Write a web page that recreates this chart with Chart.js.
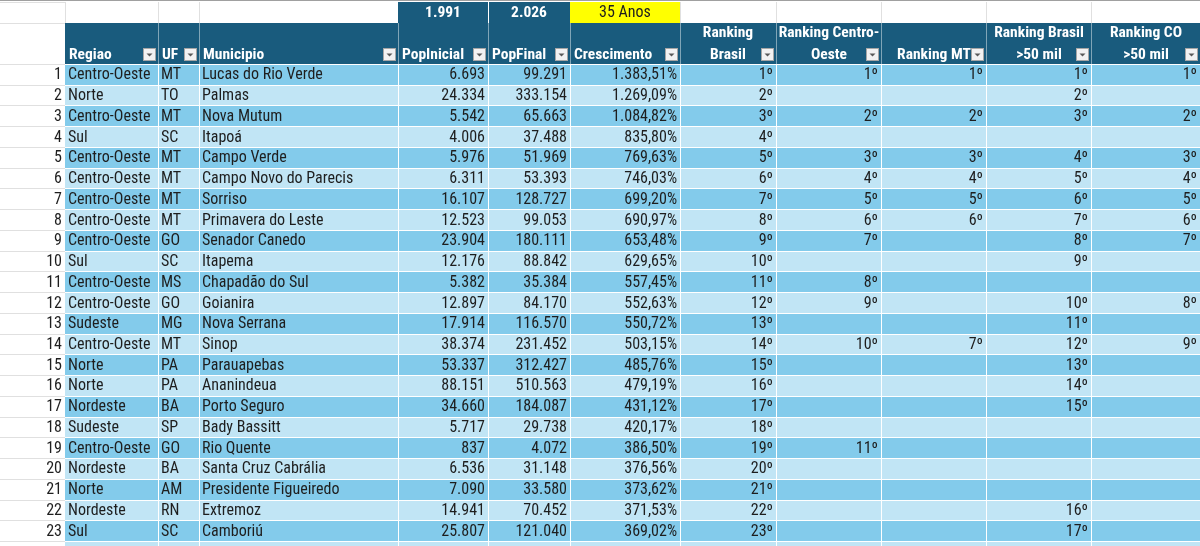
<!DOCTYPE html>
<html lang="pt-BR">
<head>
<meta charset="utf-8">
<title>Crescimento populacional 1991-2026</title>
<script src="https://cdn.jsdelivr.net/npm/chart.js@4.4.1/dist/chart.umd.min.js"></script>
<style>
  html, body { margin: 0; padding: 0; background: #fff; }
  #wrap { width: 1200px; height: 546px; position: relative; }
</style>
</head>
<body>
<div id="wrap"><canvas id="myChart"></canvas></div>
<script>
'use strict';
// periodo
const anoInicial = 1991;
const anoFinal = 2026;

// cabecalho (linha 1 / linha 2)
const headTop = ['', '', '', '', '', '', 'Ranking', 'Ranking Centro-', '', 'Ranking Brasil', 'Ranking CO'];
const headBottom = ['Regiao', 'UF', 'Municipio', 'PopInicial', 'PopFinal', 'Crescimento', 'Brasil', 'Oeste', 'Ranking MT', '>50 mil', '>50 mil'];

const regiao = ['Centro-Oeste', 'Norte', 'Centro-Oeste', 'Sul', 'Centro-Oeste', 'Centro-Oeste', 'Centro-Oeste', 'Centro-Oeste',
  'Centro-Oeste', 'Sul', 'Centro-Oeste', 'Centro-Oeste', 'Sudeste', 'Centro-Oeste', 'Norte', 'Norte', 'Nordeste', 'Sudeste',
  'Centro-Oeste', 'Nordeste', 'Norte', 'Nordeste', 'Sul'];
const uf = ['MT', 'TO', 'MT', 'SC', 'MT', 'MT', 'MT', 'MT', 'GO', 'SC', 'MS', 'GO', 'MG', 'MT', 'PA', 'PA', 'BA', 'SP', 'GO', 'BA', 'AM', 'RN', 'SC'];
const municipio = ['Lucas do Rio Verde', 'Palmas', 'Nova Mutum', 'Itapoá', 'Campo Verde', 'Campo Novo do Parecis', 'Sorriso',
  'Primavera do Leste', 'Senador Canedo', 'Itapema', 'Chapadão do Sul', 'Goianira', 'Nova Serrana', 'Sinop', 'Parauapebas',
  'Ananindeua', 'Porto Seguro', 'Bady Bassitt', 'Rio Quente', 'Santa Cruz Cabrália', 'Presidente Figueiredo', 'Extremoz', 'Camboriú'];
const popInicial = [6693, 24334, 5542, 4006, 5976, 6311, 16107, 12523, 23904, 12176, 5382, 12897, 17914, 38374, 53337, 88151,
  34660, 5717, 837, 6536, 7090, 14941, 25807];
const popFinal = [99291, 333154, 65663, 37488, 51969, 53393, 128727, 99053, 180111, 88842, 35384, 84170, 116570, 231452, 312427,
  510563, 184087, 29738, 4072, 31148, 33580, 70452, 121040];
const crescimento = [1383.51, 1269.09, 1084.82, 835.80, 769.63, 746.03, 699.20, 690.97, 653.48, 629.65, 557.45, 552.63, 550.72,
  503.15, 485.76, 479.19, 431.12, 420.17, 386.50, 376.56, 373.62, 371.53, 369.02];
const rankBrasil = [1, 2, 3, 4, 5, 6, 7, 8, 9, 10, 11, 12, 13, 14, 15, 16, 17, 18, 19, 20, 21, 22, 23];
const rankCO = [1, null, 2, null, 3, 4, 5, 6, 7, null, 8, 9, null, 10, null, null, null, null, 11, null, null, null, null];
const rankMT = [1, null, 2, null, 3, 4, 5, 6, null, null, null, null, null, 7, null, null, null, null, null, null, null, null, null];
const rankBr50 = [1, 2, 3, null, 4, 5, 6, 7, 8, 9, null, 10, 11, 12, 13, 14, 15, null, null, null, null, 16, 17];
const rankCO50 = [1, null, 2, null, 3, 4, 5, 6, 7, null, null, 8, null, 9, null, null, null, null, null, null, null, null, null];

// layout da planilha (unidades da escala x), colunas: nº, A..K
const colEdges = [0, 65, 158, 199, 398, 488, 570, 680, 776, 881, 986, 1091, 1200];
const rightAligned = [false, false, false, true, true, true, true, true, true, true, true];
const rowUnit = 20.74;
const yMin = -1.78 / rowUnit;
const yMax = yMin + 546 / rowUnit;

const fontData = '16px "Liberation Sans Narrow", "Arial Narrow", "Roboto Condensed", sans-serif';
const fontBold = 'bold 15.5px "Liberation Sans Narrow", "Arial Narrow", "Roboto Condensed", sans-serif';
const corHead = '#195b7d';
const corEscura = '#83cbeb';
const corClara = '#c1e5f5';
const corTexto = '#1e1e1e';
const corGrade = '#e0e0e0';

function fmtMil(n) {
  return String(n).replace(/\B(?=(\d{3})+(?!\d))/g, '.');
}
function fmtPct(v) {
  let parts = v.toFixed(2).split('.');
  return fmtMil(parts[0]) + ',' + parts[1] + '%';
}
function fmtRank(n) {
  return n == null ? '' : n + 'º';
}

function linha(i) {
  return [regiao[i], uf[i], municipio[i], fmtMil(popInicial[i]), fmtMil(popFinal[i]), fmtPct(crescimento[i]),
    fmtRank(rankBrasil[i]), fmtRank(rankCO[i]), fmtRank(rankMT[i]), fmtRank(rankBr50[i]), fmtRank(rankCO50[i])];
}

const tabela = {
  id: 'tabela',
  beforeDatasetsDraw(chart) {
    const ctx = chart.ctx;
    const sx = chart.scales.x;
    const sy = chart.scales.y;
    const px = v => Math.round(sx.getPixelForValue(v));
    const py = v => Math.round(sy.getPixelForValue(v));
    const nRows = municipio.length;

    function cell(c, r0, r1, color) {
      // c = indice em colEdges (0 = coluna dos numeros)
      ctx.fillStyle = color;
      ctx.fillRect(px(colEdges[c]), py(r0), px(colEdges[c + 1]) - px(colEdges[c]), py(r1) - py(r0));
    }
    function hline(x0, x1, r, color) {
      ctx.fillStyle = color;
      ctx.fillRect(px(x0), py(r), px(x1) - px(x0), 1);
    }
    function vline(xv, r0, r1, color) {
      ctx.fillStyle = color;
      ctx.fillRect(px(xv), py(r0), 1, py(r1) - py(r0));
    }
    function text(str, xv, r, align, font, color) {
      ctx.font = font;
      ctx.fillStyle = color;
      ctx.textAlign = align;
      ctx.textBaseline = 'middle';
      ctx.fillText(str, px(xv), sy.getPixelForValue(r) + 1);
    }

    ctx.save();
    // grade cinza da planilha
    for (let r = 0; r <= nRows + 4; r++) {
      if (r === 2) continue;
      hline(0, 65, r === 0 ? 0 : r, corGrade);
    }
    hline(65, 1200, 1, corGrade);
    for (let c = 1; c < colEdges.length; c++) vline(colEdges[c], 0, 1, corGrade);
    vline(65, 1, yMax, corGrade);

    // linha 1: anos
    cell(4, 0.02, 1, corHead);
    cell(5, 0.02, 1, corHead);
    cell(6, 0.02, 1, '#ffff00');
    vline(colEdges[5], 0, 1, '#ffffff');
    text(fmtMil(anoInicial), (colEdges[4] + colEdges[5]) / 2, 0.5, 'center', fontBold, '#ffffff');
    text(fmtMil(anoFinal), (colEdges[5] + colEdges[6]) / 2, 0.5, 'center', fontBold, '#ffffff');
    text((anoFinal - anoInicial) + ' Anos', (colEdges[6] + colEdges[7]) / 2, 0.5, 'center', fontData, corTexto);

    // cabecalho
    for (let c = 1; c <= 11; c++) {
      cell(c, 1, 3, corHead);
      if (c > 1) vline(colEdges[c], 1, 3, 'rgba(255,255,255,0.45)');
      const l = colEdges[c], rt = colEdges[c + 1];
      if (c <= 6) {
        text(headBottom[c - 1], l + 4, 2.5, 'left', fontBold, '#ffffff');
      } else {
        text(headTop[c - 1], (l + rt) / 2, 1.47, 'center', fontBold, '#ffffff');
        text(headBottom[c - 1], (l + rt) / 2, 2.5, 'center', fontBold, '#ffffff');
      }
      // botao de filtro
      const bx = px(rt - 15), by = py(3) - 16;
      ctx.fillStyle = '#f2f2f2';
      ctx.fillRect(bx, by, 13, 13);
      ctx.strokeStyle = '#a6a6a6';
      ctx.lineWidth = 1;
      ctx.strokeRect(bx + 0.5, by + 0.5, 12, 12);
      ctx.fillStyle = '#595959';
      ctx.beginPath();
      ctx.moveTo(bx + 3.5, by + 5.5);
      ctx.lineTo(bx + 9.5, by + 5.5);
      ctx.lineTo(bx + 6.5, by + 8.5);
      ctx.closePath();
      ctx.fill();
    }

    // linhas de dados (+ inicio da linha seguinte)
    for (let i = 0; i <= nRows; i++) {
      const r0 = 3 + i;
      const cor = i % 2 === 0 ? corEscura : corClara;
      for (let c = 1; c <= 11; c++) cell(c, r0, r0 + 1, cor);
      hline(65, 1200, r0, '#ffffff');
      for (let c = 2; c <= 11; c++) vline(colEdges[c], r0, r0 + 1, '#ffffff');
      if (i === nRows) continue;
      text(String(i + 1), 62, r0 + 0.5, 'right', fontData, corTexto);
      const vals = linha(i);
      for (let c = 1; c <= 11; c++) {
        if (!vals[c - 1]) continue;
        if (rightAligned[c - 1]) {
          text(vals[c - 1], colEdges[c + 1] - 3, r0 + 0.5, 'right', fontData, corTexto);
        } else {
          text(vals[c - 1], colEdges[c] + 3, r0 + 0.5, 'left', fontData, corTexto);
        }
      }
    }

    // borda superior
    ctx.fillStyle = '#a0a0a0';
    ctx.fillRect(0, 0, 1200, 1);
    ctx.restore();
  }
};

const ctx = document.getElementById('myChart').getContext('2d');
const myChart = new Chart(ctx, {
  type: 'scatter',
  data: { datasets: [{ data: [] }] },
  options: {
    responsive: true,
    maintainAspectRatio: false,
    animation: false,
    layout: { padding: 0 },
    scales: {
      x: { type: 'linear', display: false, min: 0, max: 1200 },
      y: { type: 'linear', display: false, min: yMin, max: yMax, reverse: true }
    },
    plugins: { legend: { display: false }, tooltip: { enabled: false } }
  },
  plugins: [tabela]
});
</script>
</body>
</html>
